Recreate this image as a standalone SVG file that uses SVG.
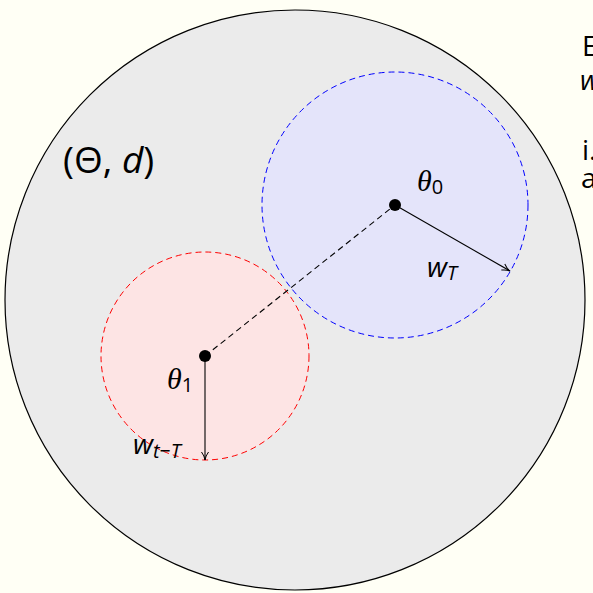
<svg xmlns="http://www.w3.org/2000/svg" width="593" height="593" viewBox="0 0 593 593">
<style>
.sans{font-family:"Open Sans","DejaVu Sans",sans-serif;fill:#000}
.math{font-family:"Liberation Serif",serif;font-style:italic;fill:#000}
.it{font-style:italic}
.conn{stroke:#000;stroke-width:1.1;fill:none}
</style>
<defs>
<marker id="to" viewBox="0 0 10 10" refX="9" refY="5" markerWidth="10" markerHeight="10" orient="auto" markerUnits="userSpaceOnUse">
<path d="M1,1.5 Q5,4.5 9,5 Q5,5.5 1,8.5" fill="none" stroke="#000" stroke-width="1"/>
</marker>
</defs>
<rect width="593" height="593" fill="#fffff5"/>
<g id="space">
<circle cx="295" cy="300" r="290" fill="#ebebeb" stroke="#000" stroke-width="1.2"/>
<text class="sans" x="63" y="173" font-size="37">(Θ, <tspan class="it">d</tspan>)</text>
</g>
<g id="ball0">
<circle cx="395" cy="205" r="133" fill="#e4e4fa" stroke="#0000ff" stroke-width="1" stroke-dasharray="6,4"/>
</g>
<g id="ball1">
<circle cx="205" cy="356" r="104" fill="#fde4e4" stroke="#ff0000" stroke-width="1" stroke-dasharray="6,4"/>
</g>
<g id="connectors">
<line class="conn" x1="205" y1="356" x2="395" y2="205" stroke-dasharray="6,4"/>
<line class="conn" x1="395" y1="205" x2="510" y2="271" marker-end="url(#to)"/>
<line class="conn" x1="205" y1="356" x2="205" y2="460" marker-end="url(#to)"/>
</g>
<g id="theta0">
<circle cx="395" cy="205" r="6" fill="#000"/>
<text class="math" x="417" y="191" font-size="30">θ<tspan class="sans" style="font-style:normal" font-size="20" dy="3">0</tspan></text>
</g>
<g id="theta1">
<circle cx="205" cy="356" r="6" fill="#000"/>
<text class="math" x="167" y="389" font-size="30">θ<tspan class="sans" style="font-style:normal" font-size="20" dy="3">1</tspan></text>
</g>
<g id="wT">
<text class="sans" x="427" y="277" font-size="28"><tspan class="it">w</tspan><tspan class="it" font-size="20" dy="3">T</tspan></text>
</g>
<g id="wtT">
<text class="sans" x="133" y="454" font-size="28"><tspan class="it">w</tspan><tspan class="it" font-size="20" dy="4">t−T</tspan></text>
</g>
<g id="sidetext">
<text class="sans" x="582" y="56" font-size="28">E</text>
<text class="sans it" x="580" y="90" font-size="28">w</text>
<text class="sans" x="582" y="160" font-size="28">i.</text>
<text class="sans" x="581" y="188" font-size="28">a</text>
</g>
</svg>
